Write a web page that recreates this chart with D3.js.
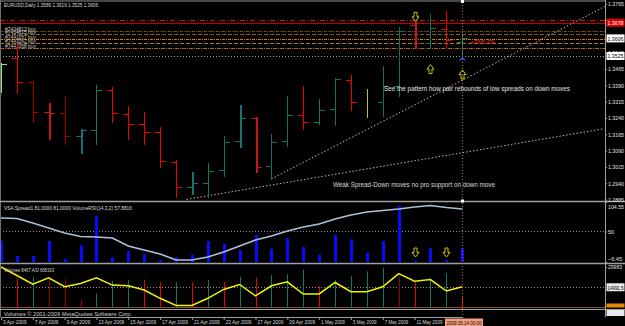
<!DOCTYPE html>
<html>
<head>
<meta charset="utf-8">
<script src="https://cdn.jsdelivr.net/npm/d3@7"></script>
<style>
  html, body { margin: 0; padding: 0; background: #000; }
  svg { display: block; }
  text { font-family: "Liberation Sans", Arial, sans-serif; }
</style>
</head>
<body>
<div id="chart"></div>
<script>
// EURUSD daily bars, 3 Apr 2009 .. 14 May 2009
const opens  = [1.3380, 1.3518, 1.3407, 1.3266, 1.3264, 1.3158, 1.3186, 1.3370, 1.3260, 1.3213,
                1.3177, 1.3038, 1.2923, 1.2941, 1.3001, 1.3135, 1.3239, 1.3020, 1.3135, 1.3255,
                1.3223, 1.3283, 1.3417, 1.3315, 1.3315, 1.3389, 1.3666, 1.3583, 1.3647, 1.3589];
const highs  = [1.3495, 1.3587, 1.3412, 1.3310, 1.3338, 1.3190, 1.3393, 1.3384, 1.3297, 1.3269,
                1.3200, 1.3047, 1.2992, 1.3033, 1.3158, 1.3301, 1.3243, 1.3167, 1.3343, 1.3389,
                1.3329, 1.3426, 1.3440, 1.3375, 1.3477, 1.3657, 1.3684, 1.3717, 1.3730, 1.3619];
const lows   = [1.3361, 1.3357, 1.3223, 1.3144, 1.3121, 1.3080, 1.3121, 1.3223, 1.3144, 1.3121,
                1.3015, 1.2877, 1.2890, 1.2877, 1.2973, 1.3107, 1.2992, 1.2960, 1.3112, 1.3190,
                1.3213, 1.3209, 1.3278, 1.3246, 1.3250, 1.3343, 1.3560, 1.3560, 1.3564, 1.3525];
const closes = [1.3486, 1.3407, 1.3269, 1.3262, 1.3158, 1.3186, 1.3370, 1.3264, 1.3213, 1.3177,
                1.3043, 1.2923, 1.2941, 1.2997, 1.3130, 1.3241, 1.3015, 1.3130, 1.3255, 1.3223,
                1.3278, 1.3421, 1.3315, 1.3330, 1.3389, 1.3638, 1.3583, 1.3652, 1.3597, 1.3606];
// VSA colouring of each bar
const barKinds = ["L","R","D","d","D","t","G","R","R","R","R","R","t","G","T","t","d","T","T","R",
                  "G","T","R","Y","T","T","d","T","R","G"];

// VSA spread histogram + VolumeRSI line
const spreadVals = [35.5, 10, 10, 35, 5, 28, 77, 8, 18, 13, 3, 8, 12, 35, 30, 20, 45, 22, 40, 25,
                    12, 45, 38, 15, 35, 93, 2, 23, 3, 23];
const rsiVals = [74.9, 74.0, 65.7, 56.5, 47.2, 40.7, 39.8, 38.0, 23.2, 15.8, 8.4, -2.8, -2.8, 2.8, 12.1,
                 23.2, 34.3, 41.7, 50.9, 58.3, 63.9, 73.1, 80.5, 86.1, 88.8, 91.6, 95.3, 98.1, 94.4, 91.6];

// Volumes + A/D
const volumes = [null, 21427, 22670, 20988, 20988, 6070, 10458, 19745, 20257, 20257,
                 19014, 19014, 19014, 20257, 19014, 22670, 22158, 23914, 24645, 28009,
                 16089, 20257, 23402, 26839, 29471, 22670, 19014, 21427, 25596, 8467];
const volKinds = ["", "R","G","D","D","D","G","G","G","R","R","G","R","G","R","G","R","G","G","G",
                  "R","G","G","G","G","D","R","G","G","R"];
const adVals = [100, 79.0, 57.8, 73.2, 51.2, 59.3, 73.2, 55.4, 53.7, 43.2, 22.7, 4.9, 4.9, 22.7, 44.6,
                56.8, 28.5, 53.7, 63.4, 33.4, 33.4, 61.7, 39.0, 39.0, 51.2, 83.7, 65.1, 69.0, 40.7, 51.2];

// every 2nd bar is labelled; the 13 May label sits under the current-date box
const dateLabels = ["3 Apr 2009","7 Apr 2009","9 Apr 2009","13 Apr 2009","15 Apr 2009","17 Apr 2009",
                    "21 Apr 2009","23 Apr 2009","27 Apr 2009","29 Apr 2009","1 May 2009","5 May 2009",
                    "7 May 2009","11 May 2009"];
const priceTicks = [1.2865, 1.2940, 1.3015, 1.3090, 1.3165, 1.3240, 1.3315, 1.3390, 1.3465,
                    1.3540, 1.3690, 1.3765];

const orderPrices = [1.3638, 1.3624, 1.3601, 1.3587, 1.3564];
const orderLabels = ["#7434813 buy", "#7434815 buy", "#7441057 buy", "#7441062 buy", "#7441058 buy"];
const targetLevels = [1.3692, 1.3678];
const lowLine = 1.3525;

// trend lines as [bar, price]
const trendA = [[17, 1.2960], [37.97, 1.3753]];
const trendB = [[11.67, 1.2866], [37.85, 1.3190]];

const W = 625, H = 326;
const AX = 605.5;

const svg = d3.select("#chart").append("svg")
    .attr("width", W)
    .attr("height", H);

svg.append("rect").attr("width", W).attr("height", H).attr("fill", "#000");

const x = d3.scaleLinear().domain([0, 29]).range([1, 462.3]);
const yP = d3.scaleLinear().domain([1.2865, 1.3765]).range([199.6, 3.8]);
const ySpread = d3.scaleLinear().domain([0, 100]).range([262, 202]);
const yRsi = d3.scaleLinear().domain([-6.45, 104.55]).range([262, 202]);
const yVol = d3.scaleLinear().domain([0, 29983]).range([307.5, 267]);
const yAD = d3.scaleLinear().domain([0, 100]).range([307.5, 267]);

const px = i => Math.round(x(i)) + 0.5;
const py = v => Math.round(yP(v)) + 0.5;

const defs = svg.append("defs");
defs.append("clipPath").attr("id", "clipMain")
    .append("rect").attr("x", 0).attr("y", 0).attr("width", AX).attr("height", 201);

function line(g, x1, y1, x2, y2, color, w, dash) {
    return g.append("line")
        .attr("x1", x1).attr("y1", y1).attr("x2", x2).attr("y2", y2)
        .attr("stroke", color).attr("stroke-width", w || 1)
        .attr("stroke-dasharray", dash || null);
}

function label(g, tx, ty, str, size, color, len) {
    const t = g.append("text")
        .attr("x", tx).attr("y", ty)
        .attr("font-size", size).attr("fill", color)
        .text(str);
    if (len) t.attr("textLength", len).attr("lengthAdjust", "spacingAndGlyphs");
    return t;
}

// ---------- main price panel ----------
const main = svg.append("g").attr("clip-path", "url(#clipMain)");

// target lines
line(main, 0, py(targetLevels[0]), AX, py(targetLevels[0]), "#d01010", 1, "5,2,1,2");
line(main, 0, py(targetLevels[1]), AX, py(targetLevels[1]), "#c00000", 1);

// order lines
const orderStyle = [["#7a4c18", "3,1,1,1"], ["#8a5a1a", "4,2"], ["#c88010", "3,1,1,1"],
                    ["#b87410", "4,2"], ["#a86a14", "4,1,1,1"]];
orderPrices.forEach((p, k) => {
    line(main, 0, py(p), AX, py(p), orderStyle[k][0], 1, orderStyle[k][1]);
});
orderLabels.forEach((s, k) => {
    label(main, 5, py(orderPrices[k]) - 1, s, 5.5, "#c8c8c8", 31);
});

// low line
line(main, 0, py(lowLine), AX, py(lowLine), "#a0a0a0", 1, "1,2");

// trend lines
[trendA, trendB].forEach(t => {
    main.append("line")
        .attr("x1", x(t[0][0])).attr("y1", yP(t[0][1]))
        .attr("x2", x(t[1][0])).attr("y2", yP(t[1][1]))
        .attr("stroke", "#b8b8b8").attr("stroke-width", 1)
        .attr("stroke-dasharray", "1.5,2");
});

// OHLC bars
const kindColor = {L: "#8fe08f", R: "#ee0000", D: "#a80000", d: "#c41818",
                   G: "#0c8048", T: "#11705c", t: "#1b6f6f", Y: "#c8c400"};
const bars = d3.range(opens.length).map(i => ({
    i, o: opens[i], h: highs[i], l: lows[i], c: closes[i], k: barKinds[i]
}));
const wide = k => k === "d" || k === "t";

const barG = main.append("g");
barG.selectAll("line.hl")
    .data(bars)
    .enter()
    .append("line")
    .attr("class", "hl")
    .attr("x1", d => wide(d.k) ? Math.round(x(d.i)) + 1 : px(d.i))
    .attr("x2", d => wide(d.k) ? Math.round(x(d.i)) + 1 : px(d.i))
    .attr("y1", d => Math.round(yP(d.h)))
    .attr("y2", d => Math.round(yP(d.l)) + 1)
    .attr("stroke", d => kindColor[d.k])
    .attr("stroke-width", d => wide(d.k) ? 2 : 1);

const tickBars = bars.filter(d => d.k !== "Y");
barG.selectAll("line.op")
    .data(tickBars)
    .enter()
    .append("line")
    .attr("x1", d => px(d.i) - 5.5).attr("x2", d => px(d.i))
    .attr("y1", d => py(d.o)).attr("y2", d => py(d.o))
    .attr("stroke", d => kindColor[d.k]);
barG.selectAll("line.cl")
    .data(tickBars)
    .enter()
    .append("line")
    .attr("x1", d => px(d.i)).attr("x2", d => px(d.i) + 5.5)
    .attr("y1", d => py(d.c)).attr("y2", d => py(d.c))
    .attr("stroke", d => kindColor[d.k]);

// arrows
function arrowPath(dir) {
    const pts = [[-1.5, -4.5], [1.5, -4.5], [1.5, 0], [3.5, 0], [0, 4.5], [-3.5, 0], [-1.5, 0]];
    const p = dir === "down" ? pts : pts.map(([a, b]) => [a, -b]);
    return "M" + p.map(q => q.join(",")).join("L") + "Z";
}
const mainArrows = [[26, 1.3705, "down"], [27, 1.3465, "up"], [29, 1.3440, "up"]];
main.selectAll("path.arr")
    .data(mainArrows)
    .enter()
    .append("path")
    .attr("transform", d => `translate(${px(d[0])},${yP(d[1])})`)
    .attr("d", d => arrowPath(d[2]))
    .attr("fill", "#000").attr("stroke", "#c8c800").attr("stroke-width", 1);

// small blue caret under current bar
main.append("path")
    .attr("transform", `translate(${px(29)},${yP(lowLine) + 3})`)
    .attr("d", "M-2.5,1.5L0,-1.5L2.5,1.5")
    .attr("fill", "none").attr("stroke", "#2a40ff").attr("stroke-width", 1.5);

// texts
label(svg, 4, 7, "EURUSD,Daily  1.3589 1.3619 1.3525 1.3606", 6, "#d8d8d8", 94);
label(svg, 384, 90.5, "See the pattern how pair rebounds of low spreads on down moves", 6.5, "#e4e4e4", 186);
label(svg, 333, 186.5, "Weak Spread-Down moves no pro support on down move", 6.5, "#d8d8d8", 162);
label(svg, 470, 43.5, "+765.39", 6, "#ff2020", 24);

// ---------- VSA panel ----------
const vsa = svg.append("g");
line(vsa, 0, Math.round(yRsi(50)) + 0.5, AX, Math.round(yRsi(50)) + 0.5, "#909090", 1, "1,2");
vsa.selectAll("rect")
    .data(spreadVals)
    .enter()
    .append("rect")
    .attr("x", (d, i) => Math.round(x(i)) - 1)
    .attr("width", 3)
    .attr("y", d => ySpread(d))
    .attr("height", d => ySpread(0) - ySpread(d))
    .attr("fill", "#0a0aff");

vsa.append("path")
    .datum(rsiVals)
    .attr("d", d3.line().x((d, i) => x(i)).y(d => yRsi(d)))
    .attr("fill", "none")
    .attr("stroke", "#a8c2da")
    .attr("stroke-width", 1.6);

const vsaArrows = [[26, 15.8, "down"], [28, 15.8, "down"]];
vsa.selectAll("path.arr")
    .data(vsaArrows)
    .enter()
    .append("path")
    .attr("transform", d => `translate(${px(d[0])},${ySpread(d[1])})`)
    .attr("d", d => arrowPath(d[2]))
    .attr("fill", "#000").attr("stroke", "#c8c800").attr("stroke-width", 1);

label(svg, 4, 210, "VSA Spread1 81.0000 81.0000  VolumeRSI(14,3,2) 57.8816", 6, "#d8d8d8", 128);

// ---------- Volume panel ----------
const volG = svg.append("g");
line(volG, 0, Math.round(yVol(14991.5)) + 0.5, AX, Math.round(yVol(14991.5)) + 0.5, "#909090", 1, "1,2");
line(volG, 0, 307.5, AX, 307.5, "#8a5020", 1);

const volColor = {R: "#e80000", D: "#a00000", G: "#0f7a50"};
volG.selectAll("line.v")
    .data(volumes.map((v, i) => ({v, i})).filter(d => d.v !== null))
    .enter()
    .append("line")
    .attr("x1", d => px(d.i)).attr("x2", d => px(d.i))
    .attr("y1", yVol(0)).attr("y2", d => yVol(d.v))
    .attr("stroke", d => volColor[volKinds[d.i]])
    .attr("stroke-width", 1);

volG.append("path")
    .datum(adVals)
    .attr("d", d3.line().x((d, i) => x(i)).y(d => yAD(d)))
    .attr("fill", "none")
    .attr("stroke", "#f2f200")
    .attr("stroke-width", 1.5);

label(svg, 4, 271.5, "Volumes 8467  A/D 668163", 6, "#d8d8d8", 50);

// ---------- frames ----------
line(svg, 0, 1, AX, 1, "#909090", 1.2);
line(svg, 0.5, 0, 0.5, 317, "#707070", 1);
line(svg, 0, 201.5, W, 201.5, "#a0a0a0", 1.5);
line(svg, 0, 263.5, W, 263.5, "#a0a0a0", 1.5);
line(svg, 0, 309.5, W, 309.5, "#a0a0a0", 1.2);
line(svg, AX, 0, AX, 317, "#a0a0a0", 1);

label(svg, 4, 315.5, "Volumes © 2001-2009 MetaQuotes Software Corp.", 5.5, "#d0d0d0", 128);

// crosshair on current bar
line(svg, px(29), 2, px(29), 317, "#b0602a", 1, "1,2");
svg.append("rect").attr("x", px(29) - 1.5).attr("y", 0).attr("width", 3).attr("height", 3).attr("fill", "#fff");
svg.append("rect").attr("x", px(29) - 1.5).attr("y", 199.5).attr("width", 3).attr("height", 3).attr("fill", "#fff");

// ---------- axes ----------
function styleAxis(g, len) {
    g.select(".domain").remove();
    g.selectAll(".tick line").attr("stroke", "#a0a0a0");
    g.selectAll(".tick text")
        .attr("fill", "#e0e0e0")
        .attr("font-size", 6)
        .attr("font-family", "Liberation Sans, Arial, sans-serif");
    if (len) g.selectAll(".tick text").attr("textLength", len).attr("lengthAdjust", "spacingAndGlyphs");
}

const pAxis = svg.append("g")
    .attr("transform", `translate(${AX},0)`)
    .call(d3.axisRight(yP).tickValues(priceTicks).tickFormat(d3.format(".4f"))
        .tickSize(1.5).tickSizeOuter(0).tickPadding(1));
styleAxis(pAxis, 16);

const rAxis = svg.append("g")
    .attr("transform", `translate(${AX},0)`)
    .call(d3.axisRight(yRsi).tickValues([104.55, 50, -6.45]).tickFormat(d => d === 50 ? "50" : d3.format(".2f")(d))
        .tickSize(1.5).tickSizeOuter(0).tickPadding(1));
styleAxis(rAxis);
rAxis.selectAll(".tick text")
    .attr("dy", d => d > 100 ? "1.1em" : d < 0 ? "-0.2em" : "0.32em")
    .attr("textLength", d => d === 50 ? 6 : d > 100 ? 16 : 14)
    .attr("lengthAdjust", "spacingAndGlyphs");

const vAxis = svg.append("g")
    .attr("transform", `translate(${AX},0)`)
    .call(d3.axisRight(yVol).tickValues([29983]).tickFormat(d3.format("d"))
        .tickSize(1.5).tickSizeOuter(0).tickPadding(1));
styleAxis(vAxis, 14);

function axisBox(yy, str, fill, color) {
    svg.append("rect").attr("x", AX + 1).attr("y", yy - 4).attr("width", W - AX - 1.5).attr("height", 8).attr("fill", fill);
    label(svg, AX + 2, yy + 2.3, str, 6, color, 16);
}
axisBox(yP(targetLevels[1]), "1.3678", "#e00000", "#ffffff");
axisBox(yP(closes[29]), "1.3606", "#ffffff", "#000000");
axisBox(yP(lowLine), "1.3525", "#ffffff", "#000000");
axisBox(yVol(14991.5), "14991.5", "#e8e8e8", "#000000");
svg.append("rect").attr("x", AX + 1).attr("y", 303.5).attr("width", W - AX - 1.5).attr("height", 4).attr("fill", "#e08a00");
svg.append("rect").attr("x", AX + 1).attr("y", 310).attr("width", W - AX - 1.5).attr("height", 6).attr("fill", "#e8e8e8");

// date axis
const tickIdx = dateLabels.map((s, k) => k * 2);
const dAxis = svg.append("g")
    .attr("transform", "translate(0,317)")
    .call(d3.axisBottom(x).tickValues(tickIdx).tickFormat((d, k) => dateLabels[k])
        .tickSize(3).tickSizeOuter(0));
dAxis.select(".domain").attr("stroke", "#a0a0a0");
dAxis.selectAll(".tick line").attr("stroke", "#a0a0a0");
dAxis.selectAll(".tick text")
    .attr("text-anchor", "start")
    .attr("x", 1.5).attr("y", 2).attr("dy", "0.8em")
    .attr("fill", "#d8d8d8")
    .attr("font-size", 6)
    .attr("font-family", "Liberation Sans, Arial, sans-serif")
    .attr("textLength", (d, k) => dateLabels[k].length * 2.35)
    .attr("lengthAdjust", "spacingAndGlyphs");

// current date box
svg.append("rect").attr("x", 445).attr("y", 318.5).attr("width", 38).attr("height", 7.5).attr("fill", "#f0a080");
label(svg, 446.5, 324.5, "2009.05.14 00:00", 6, "#200000", 35);
</script>
</body>
</html>
